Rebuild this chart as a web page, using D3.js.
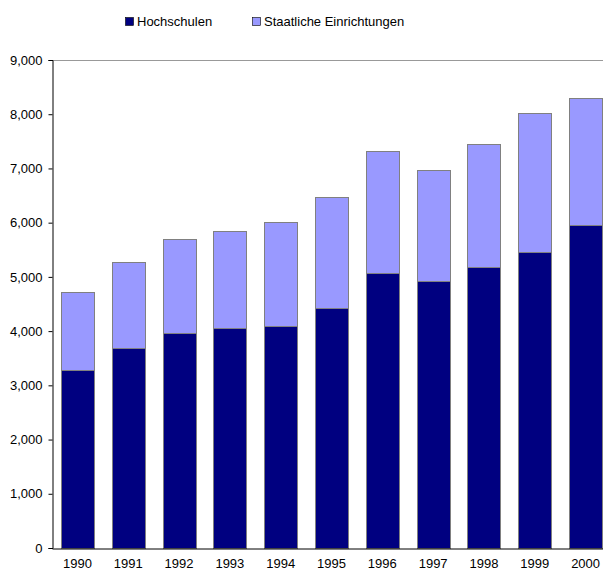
<!DOCTYPE html>
<html>
<head>
<meta charset="utf-8">
<script src="https://cdn.jsdelivr.net/npm/d3@7"></script>
<style>
  html, body { margin: 0; padding: 0; background: #fff; }
  svg { display: block; }
  text { font-family: "Liberation Sans", Arial, sans-serif; fill: #000; }
</style>
</head>
<body>
<svg id="chart" width="603" height="571"></svg>
<script>
// Jahre und Werte der beiden Bereiche (gestapelt)
const years = ["1990","1991","1992","1993","1994","1995","1996","1997","1998","1999","2000"];
const hochschulen = [3283, 3694, 3960, 4063, 4094, 4432, 5072, 4919, 5183, 5465, 5957];
const gesamt      = [4727, 5275, 5699, 5841, 6007, 6468, 7316, 6966, 7446, 8017, 8294];
const staatlich   = gesamt.map((g, i) => g - hochschulen[i]);
const seriesNames = ["Hochschulen", "Staatliche Einrichtungen"];
const seriesColors = ["#000080", "#9999FF"];
const yTicks = [0, 1000, 2000, 3000, 4000, 5000, 6000, 7000, 8000, 9000];

const svg = d3.select("#chart");
const plotLeft = 52, plotRight = 611, plotTop = 60, plotBottom = 548;
const fontStack = "'Liberation Sans', Arial, sans-serif";

const x = d3.scaleBand().domain(years).range([plotLeft, plotRight]).paddingInner(0.35).paddingOuter(0.175);
const y = d3.scaleLinear().domain([0, 9000]).range([plotBottom, plotTop]);

const rows = years.map((yr, i) => ({ year: yr, Hochschulen: hochschulen[i], "Staatliche Einrichtungen": staatlich[i] }));
const stack = d3.stack().keys(seriesNames)(rows);

// Obere Begrenzungslinie
svg.append("line")
  .attr("x1", plotLeft).attr("x2", plotRight)
  .attr("y1", y(9000) + 0.5).attr("y2", y(9000) + 0.5)
  .attr("stroke", "#999").attr("stroke-width", 1);

// Balken
svg.append("g").selectAll("g").data(stack).join("g")
  .attr("fill", (d, i) => seriesColors[i])
  .selectAll("rect").data(d => d).join("rect")
  .attr("x", d => Math.round(x(d.data.year)) + 0.5)
  .attr("y", d => Math.round(y(d[1])) + 0.5)
  .attr("width", Math.round(x.bandwidth()))
  .attr("height", d => Math.round(y(d[0])) - Math.round(y(d[1])))
  .attr("stroke", "#808080").attr("stroke-width", 1);

// Y-Achse
const yAxis = d3.axisLeft(y).tickValues(yTicks).tickSize(4).tickPadding(6)
  .tickFormat(d3.format(",.0f"));
const gy = svg.append("g").attr("transform", `translate(${plotLeft + 0.5},0)`).call(yAxis);
gy.select(".domain").attr("stroke", "#000");
gy.selectAll(".tick line").attr("stroke", "#000");
gy.selectAll(".tick text").style("font-size", "13px").style("font-family", fontStack);

// X-Achse
const xAxis = d3.axisBottom(x).tickSize(0).tickPadding(10);
const gx = svg.append("g").attr("transform", `translate(0,${plotBottom + 0.5})`).call(xAxis);
gx.select(".domain").attr("stroke", "#000");
gx.selectAll(".tick text").style("font-size", "13px").style("font-family", fontStack);

// Legende
const legendX = [125, 252];
const legend = svg.append("g");
seriesNames.forEach((name, i) => {
  legend.append("rect")
    .attr("x", legendX[i] + 0.5).attr("y", 17.5).attr("width", 8).attr("height", 8)
    .attr("fill", seriesColors[i]).attr("stroke", "#000").attr("stroke-width", 0.6);
  legend.append("text")
    .attr("x", legendX[i] + 12).attr("y", 26)
    .style("font-size", "13px").style("font-family", fontStack)
    .text(name);
});
</script>
</body>
</html>
